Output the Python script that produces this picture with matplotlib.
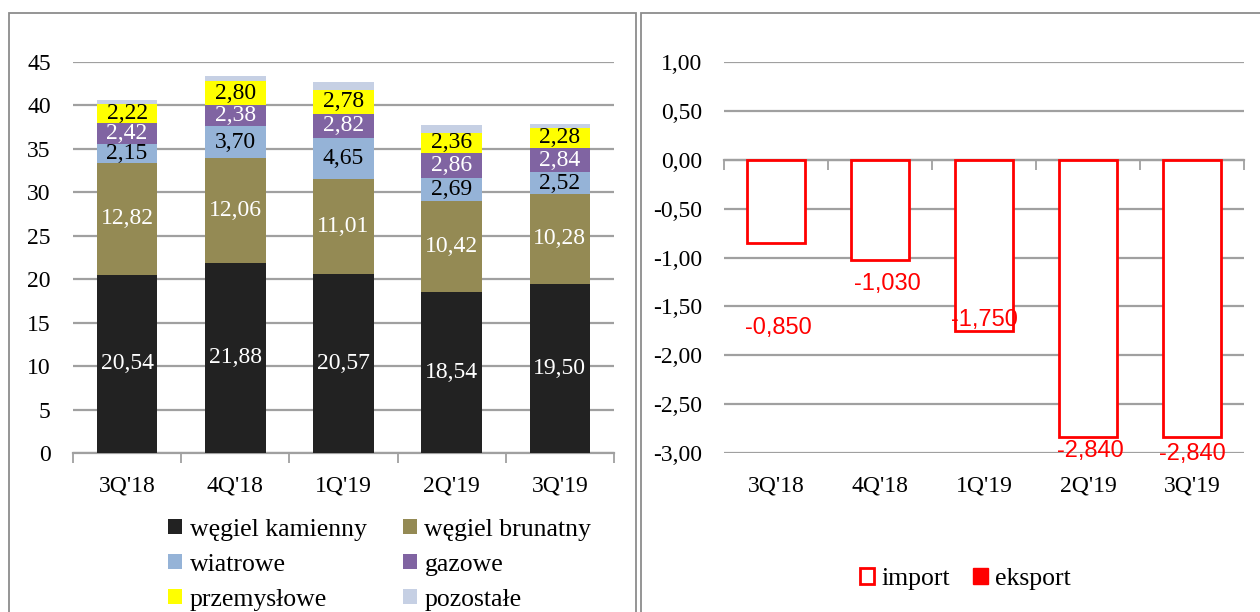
import matplotlib.pyplot as plt
import numpy as np
from matplotlib.patches import Patch, Rectangle

quarters = ["3Q'18", "4Q'18", "1Q'19", "2Q'19", "3Q'19"]

# left chart, stacked sources
kamienny = [20.54, 21.88, 20.57, 18.54, 19.50]
brunatny = [12.82, 12.06, 11.01, 10.42, 10.28]
wiatrowe = [2.15, 3.70, 4.65, 2.69, 2.52]
gazowe = [2.42, 2.38, 2.82, 2.86, 2.84]
przemyslowe = [2.22, 2.80, 2.78, 2.36, 2.28]
pozostale = [0.50, 0.52, 0.90, 0.86, 0.50]

series_names = ['węgiel kamienny', 'węgiel brunatny', 'wiatrowe',
                'gazowe', 'przemysłowe', 'pozostałe']

# right chart, exchange balance
saldo = [-0.850, -1.030, -1.750, -2.840, -2.840]

colors = ['#222222', '#948a54', '#95b3d7', '#8064a2', '#ffff00', '#c6d0e4']
label_colors = ['white', 'white', 'black', 'white', 'black', None]

serif = ['Liberation Serif', 'DejaVu Serif']
sans = ['Liberation Sans', 'DejaVu Sans']
plt.rcParams['font.family'] = serif
fs = 17
fs_leg = 18.5
grid_c = '#a0a0a0'

fig = plt.figure(figsize=(12.6, 6.12), dpi=100)

# panel frames
fig.patches.append(Rectangle((9 / 1260, -0.1), (636 - 9) / 1260, (612 - 13) / 612 + 0.1,
                             transform=fig.transFigure, fill=False,
                             edgecolor='#8c8c8c', lw=1.3))
fig.patches.append(Rectangle((641 / 1260, -0.1), 0.6, (612 - 13) / 612 + 0.1,
                             transform=fig.transFigure, fill=False,
                             edgecolor='#8c8c8c', lw=1.3))

# ---- left chart
ax = fig.add_axes([73 / 1260, 159 / 612, 541 / 1260, 391 / 612])
x = np.arange(len(quarters))
data = [kamienny, brunatny, wiatrowe, gazowe, przemyslowe, pozostale]
bottom = np.zeros(len(quarters))
for vals, c, lc in zip(data, colors, label_colors):
    vals = np.array(vals)
    ax.bar(x, vals, 0.56, bottom=bottom, color=c, zorder=3)
    if lc is not None:
        for xi, b, v in zip(x, bottom, vals):
            ax.text(xi, b + v / 2, f'{v:.2f}'.replace('.', ','), ha='center',
                    va='center', color=lc, fontsize=fs, zorder=4)
    bottom += vals

ax.set_xlim(-0.5, 4.5)
ax.set_ylim(0, 45)
ax.set_yticks(range(0, 46, 5))
ax.yaxis.grid(True, color=grid_c, lw=1.6, zorder=0)
for s in ['top', 'right', 'left']:
    ax.spines[s].set_visible(False)
ax.spines['bottom'].set_color(grid_c)
ax.spines['bottom'].set_linewidth(1.6)
ax.set_xticks(np.arange(-0.5, 5, 1))
ax.set_xticklabels([])
ax.tick_params(axis='x', length=7, color=grid_c, width=1.3)
ax.tick_params(axis='y', length=0, pad=16, labelsize=fs)
sec = ax.secondary_xaxis('bottom')
sec.set_xticks(x)
sec.set_xticklabels(quarters, fontsize=fs)
sec.tick_params(length=0, pad=16)
sec.spines['bottom'].set_visible(False)

order = [0, 2, 4, 1, 3, 5]
handles = [Patch(facecolor=colors[i], label=series_names[i]) for i in order]
fig.legend(handles=handles, ncol=2, loc='upper left',
           bbox_to_anchor=(155 / 1260, 1 - 506 / 612), frameon=False,
           fontsize=fs_leg, handlelength=0.55, handleheight=0.55,
           handletextpad=0.3, columnspacing=1.4, labelspacing=0.5,
           borderpad=0)

# ---- right chart
ax2 = fig.add_axes([724 / 1260, 159 / 612, 520 / 1260, 391 / 612])
ax2.bar(x, saldo, 0.55, facecolor='white', edgecolor='#ff0000', lw=2, zorder=3)
ax2.set_xlim(-0.5, 4.5)
ax2.set_ylim(-3, 1)
ax2.set_yticks(np.arange(-3, 1.01, 0.5))
ax2.set_yticklabels([f'{v:.2f}'.replace('.', ',') for v in np.arange(-3, 1.01, 0.5)])
ax2.yaxis.grid(True, color=grid_c, lw=1.6, zorder=0)
for s in ['top', 'right', 'left']:
    ax2.spines[s].set_visible(False)
ax2.spines['bottom'].set_position(('data', 0))
ax2.spines['bottom'].set_color(grid_c)
ax2.spines['bottom'].set_linewidth(1.6)
ax2.set_xticks(np.arange(-0.5, 5, 1))
ax2.set_xticklabels([])
ax2.tick_params(axis='x', length=7, color=grid_c, width=1.3)
ax2.tick_params(axis='y', length=0, pad=16, labelsize=fs)
sec2 = ax2.secondary_xaxis('bottom')
sec2.set_xticks(x)
sec2.set_xticklabels(quarters, fontsize=fs)
sec2.tick_params(length=0, pad=16)
sec2.spines['bottom'].set_visible(False)

# label offsets in points (Excel placed them unevenly)
lab_dx = [1.5, 5, 0, 2, 0]
lab_dy = [-61, -17, 8, -10, -12]
for xi, v, dx, dy in zip(x, saldo, lab_dx, lab_dy):
    ax2.annotate(f'{v:.3f}'.replace('.', ','), (xi, v), xytext=(dx, dy),
                 textcoords='offset points', ha='center', va='center',
                 color='#ff0000', fontsize=fs, family=sans, zorder=5)

h2 = [Patch(facecolor='white', edgecolor='#ff0000', lw=2, label='import'),
      Patch(facecolor='#ff0000', edgecolor='#ff0000', label='eksport')]
fig.legend(handles=h2, ncol=2, loc='center left',
           bbox_to_anchor=(847 / 1260, 1 - 579 / 612), frameon=False,
           fontsize=fs_leg, handlelength=0.55, handleheight=0.55,
           handletextpad=0.3, columnspacing=0.9, borderpad=0)

fig.savefig('out.png', dpi=100)
